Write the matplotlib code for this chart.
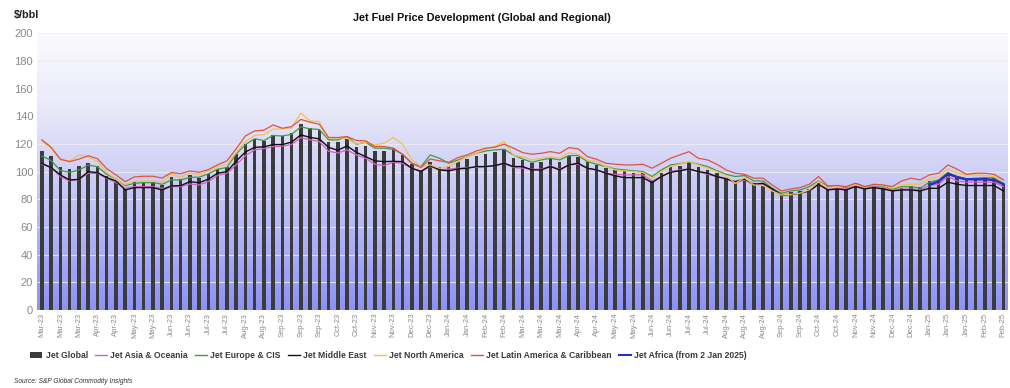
import numpy as np
import pandas as pd
import matplotlib
matplotlib.use("Agg")
import matplotlib.pyplot as plt
from matplotlib.colors import LinearSegmentedColormap
from matplotlib.patches import Patch
from matplotlib.lines import Line2D

plt.rcParams['font.family'] = ['Liberation Sans', 'DejaVu Sans']

dates = pd.date_range("2023-03-03", periods=105, freq="7D")
labels = [d.strftime("%b-%y") for d in dates]

jet_global = [115.0, 111.4, 103.7, 102.0, 104.4, 106.1, 104.2, 97.0, 92.8, 87.5,
              92.6, 92.4, 92.4, 90.4, 96.0, 94.6, 97.6, 95.7, 98.3, 101.8,
              103.7, 112.7, 119.8, 123.6, 122.4, 126.6, 125.9, 127.8, 134.8, 131.4,
              130.4, 121.8, 121.5, 123.7, 118.2, 118.9, 115.0, 115.0, 117.0, 112.1,
              105.4, 101.3, 107.3, 103.7, 104.2, 107.3, 109.2, 111.7, 112.6, 114.5,
              116.5, 110.2, 108.5, 106.1, 107.3, 109.0, 106.8, 111.4, 110.9, 106.8,
              104.9, 102.5, 101.3, 100.8, 99.4, 98.9, 94.1, 98.9, 103.2, 104.0,
              107.3, 103.7, 101.3, 98.9, 95.7, 93.3, 95.7, 91.6, 90.9, 88.5,
              83.7, 85.1, 86.1, 87.5, 91.6, 87.5, 88.2, 87.5, 89.7, 88.0,
              89.2, 88.0, 86.8, 88.0, 89.7, 89.2, 93.3, 94.1, 98.9, 95.7,
              94.1, 95.7, 95.7, 95.3, 91.2]

jet_asia = [105.3, 102.9, 96.4, 93.3, 94.5, 98.8, 98.8, 95.2, 92.1, 88.0,
            89.2, 89.2, 89.2, 88.0, 89.2, 89.2, 91.1, 90.4, 92.8, 97.3,
            98.9, 104.9, 111.5, 115.8, 116.7, 118.2, 118.4, 119.6, 124.6, 123.0,
            121.8, 114.8, 113.5, 115.8, 112.1, 109.7, 105.4, 104.4, 106.8, 106.1,
            102.5, 100.6, 103.7, 101.3, 102.0, 102.5, 103.0, 103.2, 103.7, 104.4,
            106.1, 103.0, 102.5, 101.8, 101.8, 104.2, 101.8, 104.9, 105.4, 102.5,
            101.3, 98.9, 98.1, 97.7, 97.7, 97.7, 93.3, 96.5, 100.1, 101.3,
            101.8, 100.1, 98.1, 96.5, 95.3, 91.6, 94.1, 90.4, 90.9, 86.8,
            82.7, 83.2, 84.4, 86.1, 90.9, 87.3, 88.0, 87.5, 89.7, 88.0,
            89.2, 88.5, 86.8, 87.5, 87.5, 86.8, 90.0, 90.9, 96.5, 93.3,
            92.4, 92.4, 92.4, 92.4, 89.2]

jet_europe = [111.4, 108.0, 100.8, 99.5, 101.2, 104.8, 103.6, 98.1, 94.7, 89.9,
              91.6, 92.1, 92.1, 90.9, 94.0, 94.0, 95.9, 96.0, 98.5, 101.8,
              103.0, 112.8, 119.6, 123.8, 122.5, 126.2, 125.8, 127.0, 132.4, 131.0,
              130.5, 123.0, 123.0, 125.4, 119.8, 121.3, 117.0, 117.0, 116.2, 112.6,
              106.1, 103.7, 112.1, 109.7, 106.1, 108.5, 110.9, 113.3, 115.0, 115.8,
              116.2, 112.1, 109.2, 106.8, 108.5, 109.7, 108.5, 111.7, 111.7, 107.3,
              105.4, 103.7, 102.0, 101.3, 100.6, 100.1, 96.5, 101.3, 104.9, 105.8,
              107.0, 105.4, 103.7, 100.8, 98.1, 96.5, 97.2, 93.3, 93.3, 88.0,
              84.4, 86.1, 86.8, 89.2, 93.3, 89.2, 89.8, 88.5, 91.6, 89.2,
              90.0, 89.7, 87.5, 89.2, 89.2, 88.0, 92.4, 94.1, 99.4, 96.5,
              94.8, 95.3, 95.7, 95.5, 91.6]

jet_middle_east = [106.0, 102.9, 97.6, 94.0, 94.5, 100.0, 99.3, 95.7, 93.3, 86.8,
                   88.5, 88.5, 88.5, 86.8, 89.7, 89.9, 92.8, 92.0, 94.6, 98.9,
                   100.0, 107.6, 114.2, 117.6, 118.0, 119.6, 119.6, 121.4, 126.6, 124.8,
                   123.7, 117.6, 115.5, 118.6, 114.0, 110.9, 107.8, 107.3, 107.5, 107.3,
                   102.5, 100.1, 104.4, 101.3, 100.6, 102.0, 102.5, 103.7, 103.7, 104.4,
                   106.1, 103.7, 103.7, 101.3, 101.3, 103.7, 101.3, 104.9, 106.1, 102.5,
                   101.3, 98.9, 97.0, 95.7, 95.7, 95.7, 92.1, 96.5, 99.6, 100.6,
                   102.0, 100.1, 98.9, 96.5, 94.8, 92.8, 94.8, 90.9, 91.6, 87.5,
                   83.2, 83.7, 84.4, 86.1, 90.9, 86.8, 87.5, 86.8, 89.2, 87.5,
                   88.5, 87.5, 86.1, 86.8, 86.8, 86.1, 88.0, 88.0, 92.4, 90.9,
                   90.0, 90.0, 90.0, 90.0, 86.1]

jet_north_america = [122.0, 117.0, 108.5, 107.8, 112.1, 110.6, 107.3, 99.5, 94.5, 90.6,
                     93.0, 93.3, 93.3, 92.3, 98.5, 96.0, 99.0, 98.0, 100.6, 103.7,
                     104.9, 113.8, 121.8, 126.2, 126.8, 130.8, 131.0, 131.7, 142.3, 136.7,
                     136.2, 124.2, 124.5, 124.2, 120.0, 121.3, 119.4, 120.6, 124.7, 119.9,
                     108.5, 103.7, 104.9, 102.5, 103.7, 107.3, 110.9, 113.3, 116.5, 118.2,
                     121.8, 111.7, 110.9, 108.5, 109.7, 110.9, 109.7, 113.8, 112.6, 108.5,
                     107.3, 103.7, 101.3, 100.6, 100.1, 99.4, 95.3, 100.1, 103.7, 105.5,
                     107.3, 104.9, 102.5, 100.1, 97.2, 91.6, 95.7, 90.4, 90.0, 86.1,
                     83.2, 83.7, 84.4, 86.8, 92.8, 88.5, 89.5, 89.2, 90.9, 89.2,
                     90.4, 90.0, 88.0, 90.4, 90.9, 90.9, 94.8, 96.5, 102.0, 98.9,
                     97.7, 97.7, 97.2, 96.5, 92.4]

jet_latam = [123.0, 117.6, 109.0, 107.3, 109.1, 111.5, 109.4, 102.2, 97.7, 92.8,
             96.2, 96.7, 96.7, 95.4, 99.4, 98.6, 100.5, 99.6, 101.5, 105.0,
             107.8, 116.5, 125.8, 129.5, 130.0, 133.8, 131.4, 132.6, 137.8, 135.8,
             134.3, 124.7, 124.7, 125.4, 122.6, 122.3, 118.2, 118.2, 117.0, 112.6,
             106.1, 103.0, 109.2, 107.8, 106.8, 110.2, 112.1, 115.0, 117.0, 117.7,
             119.9, 117.0, 113.8, 112.6, 113.3, 114.5, 113.3, 117.4, 116.5, 110.9,
             109.0, 106.1, 105.4, 104.9, 104.9, 105.4, 102.5, 106.1, 109.7, 112.1,
             114.5, 109.7, 108.5, 105.4, 101.3, 98.9, 98.1, 95.3, 95.3, 90.4,
             86.1, 87.5, 88.5, 90.9, 96.5, 89.7, 90.0, 89.2, 91.6, 89.2,
             90.9, 90.4, 89.2, 93.3, 95.3, 94.1, 97.7, 98.9, 104.9, 101.8,
             98.1, 98.9, 98.9, 98.1, 94.1]

africa_start = 96
jet_africa = [90.5, 93.0, 98.5, 96.0, 94.5, 94.5, 94.5, 94.0, 91.0]

series = [
    ("Jet Asia & Oceania", jet_asia, "#d45fc4", 0.9),
    ("Jet Europe & CIS", jet_europe, "#3f9a45", 0.9),
    ("Jet Middle East", jet_middle_east, "#111111", 1.0),
    ("Jet North America", jet_north_america, "#f2c14e", 0.9),
    ("Jet Latin America & Caribbean", jet_latam, "#e0533f", 0.9),
]

fig = plt.figure(figsize=(10.1, 3.88), dpi=100)
ax = fig.add_axes([0.037, 0.201, 0.961, 0.713])

x = np.arange(len(jet_global))
n = len(x)

# gradient background
cmap = LinearSegmentedColormap.from_list(
    "bg", ["#8d92f7", "#aeb1f6", "#cfd0f6", "#ebebfa", "#fbfbfe"], N=256)
grad = np.linspace(0, 1, 256).reshape(-1, 1)
ax.imshow(grad, extent=[-0.5, n - 0.5, 0, 200], aspect="auto", origin="lower",
          cmap=cmap, zorder=0, interpolation="bicubic")

for yv in range(20, 201, 20):
    ax.axhline(yv, color="#ececf4", lw=0.8, alpha=0.85, zorder=1)

ax.bar(x, jet_global, width=0.38, color="#3b3b3d", zorder=2, label="Jet Global")

for name, vals, col, lw in series:
    ax.plot(x, vals, color=col, lw=lw, zorder=3)

xa = np.arange(africa_start, africa_start + len(jet_africa))
ax.plot(xa, jet_africa, color="#2b2fc0", lw=1.8, zorder=4)

ax.set_xlim(-0.5, n - 0.5)
ax.set_ylim(0, 200)
ax.set_yticks(range(0, 201, 20))
ax.set_yticklabels([str(v) for v in range(0, 201, 20)], color="#8a8a8a", fontsize=8)
ax.set_xticks(x[::2])
ax.set_xticklabels(labels[::2], rotation=90, fontsize=5.5, color="#8a8a8a")
ax.tick_params(axis="both", length=0, pad=3)
ax.tick_params(axis="x", pad=2)
for s in ax.spines.values():
    s.set_visible(False)

fig.text(0.477, 0.953, "Jet Fuel Price Development (Global and Regional)",
         ha="center", va="center", fontsize=7.8, fontweight="bold", color="#111111")
fig.text(0.014, 0.962, "$/bbl", ha="left", va="center", fontsize=7.8,
         fontweight="bold", color="#222222")

handles = [Patch(facecolor="#3b3b3d", edgecolor="none")]
names = ["Jet Global"]
for name, vals, col, lw in series:
    handles.append(Line2D([0], [0], color=col, lw=1.0))
    names.append(name)
handles.append(Line2D([0], [0], color="#2b2fc0", lw=1.5))
names.append("Jet Africa (from 2 Jan 2025)")

leg = fig.legend(handles, names, loc="center left", bbox_to_anchor=(0.03, 0.083),
                 ncol=7, frameon=False, fontsize=6.2, handlelength=1.4,
                 handletextpad=0.4, columnspacing=0.8, handleheight=0.75,
                 borderaxespad=0, borderpad=0)
for t in leg.get_texts():
    t.set_color("#3a3a3a")
    t.set_fontweight("bold")

fig.text(0.014, 0.017, "Source: S&P Global Commodity Insights", ha="left", va="center",
         fontsize=4.8, style="italic", color="#333333")

fig.savefig("out.png", dpi=100)
